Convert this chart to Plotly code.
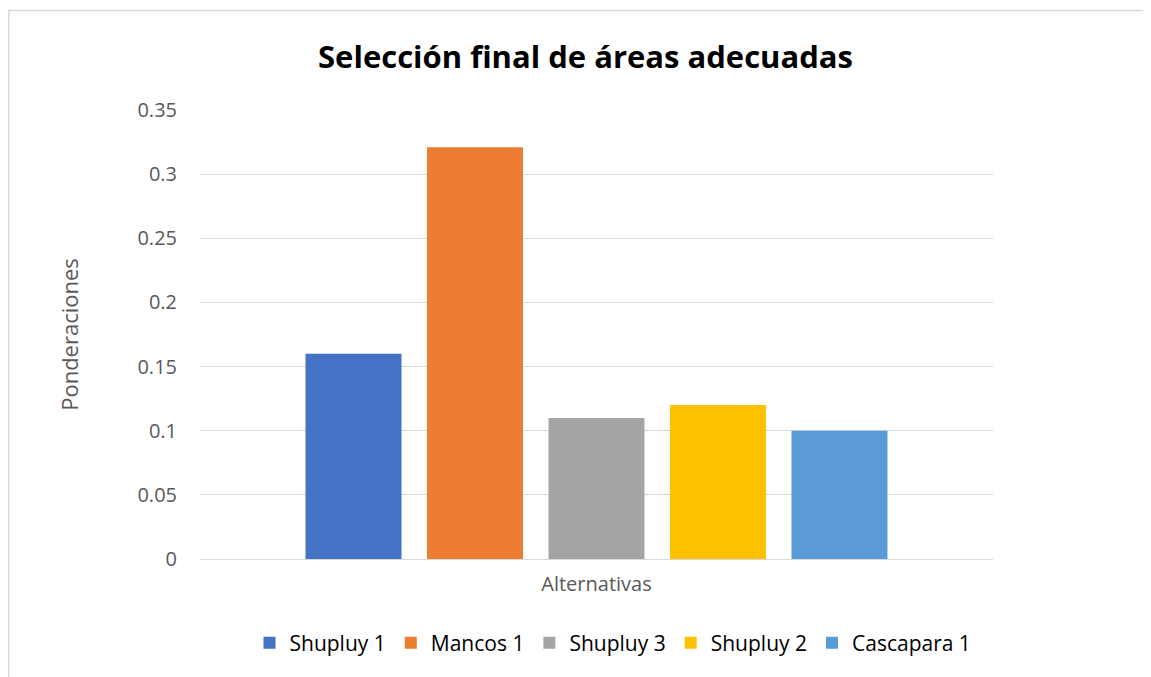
import plotly.graph_objects as go

series = ["Shupluy 1", "Mancos 1", "Shupluy 3", "Shupluy 2", "Cascapara 1"]
values = [0.16, 0.321, 0.11, 0.12, 0.10]
colors = ["#4472C4", "#ED7D31", "#A5A5A5", "#FFC000", "#5B9BD5"]
category = [""]
yticks = [0, 0.05, 0.1, 0.15, 0.2, 0.25, 0.3, 0.35]
yticklabels = ["0", "0.05", "0.1", "0.15", "0.2", "0.25", "0.3", "0.35"]

W, H = 1151, 677
OFF = 8  # page body margin
# plot area in page pixels: x 200..993, y 110..559
ml = 200 - OFF
mt = 110 - OFF
mr = W - (993 - OFF)
mb = H - (559 - OFF)

fig = go.Figure()
for name, v, c in zip(series, values, colors):
    fig.add_trace(go.Bar(name=name, x=category, y=[v], marker=dict(color=c, line=dict(width=0))))

pw = W - ml - mr
ph = H - mt - mb
def px_x(p):
    return (p - OFF - ml) / pw
def px_y(p):
    return (H - mb - (p - OFF)) / ph

fig.update_layout(
    width=W, height=H,
    margin=dict(l=ml, r=mr, t=mt, b=mb),
    paper_bgcolor="white", plot_bgcolor="white",
    barmode="group", bargap=0.234, bargroupgap=0.21,
    font=dict(family="Open Sans", color="#595959"),
    title=dict(text="<b>Selección final de áreas adecuadas</b>", x=(585.5 - OFF) / W, xanchor="center",
               y=1 - (57 - OFF) / H, yanchor="middle", font=dict(size=31, color="#000000", family="Open Sans")),
    xaxis=dict(showticklabels=False, showgrid=False, zeroline=False, showline=True,
               linecolor="#D9D9D9", linewidth=1, ticks="",
               title=dict(text="Alternativas", font=dict(size=20, color="#595959"), standoff=17)),
    yaxis=dict(range=[0, 0.35], tickvals=yticks, ticktext=yticklabels, showgrid=True,
               gridcolor="#D9D9D9", gridwidth=1, zeroline=False, showline=False,
               tickfont=dict(size=20, color="#595959"), ticklen=0, ticks="", ticklabelstandoff=22,
               title=dict(text="Ponderaciones", font=dict(size=22, color="#595959"), standoff=52)),
    legend=dict(orientation="h", x=px_x(613), xanchor="center", y=px_y(643), yanchor="middle",
                font=dict(size=21, color="#000000"), itemwidth=30, traceorder="normal"),
    shapes=[
        dict(type="line", xref="paper", yref="paper", x0=px_x(8), x1=px_x(1170), y0=px_y(10.5), y1=px_y(10.5),
             line=dict(color="#D9D9D9", width=1.5)),
        dict(type="line", xref="paper", yref="paper", x0=px_x(8.75), x1=px_x(8.75), y0=px_y(10.5), y1=px_y(700),
             line=dict(color="#D9D9D9", width=1.5)),
    ],
)
fig.write_html("out.html")
